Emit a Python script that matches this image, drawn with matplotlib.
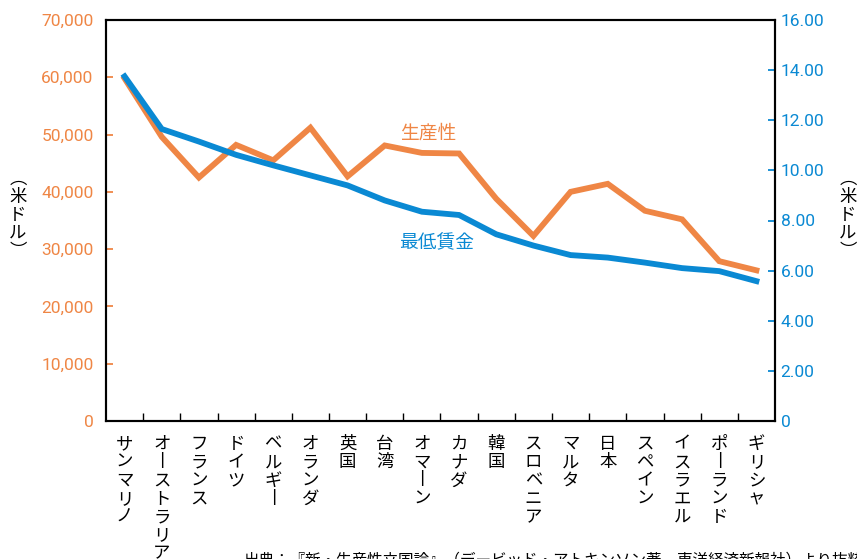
import matplotlib
matplotlib.use("Agg")
import matplotlib.pyplot as plt
import numpy as np

plt.rcParams['font.family'] = ['Noto Sans CJK JP', 'DejaVu Sans']

# 国名（縦書き用に長音は縦棒に置き換える）
countries = ['サンマリノ', 'オーストラリア', 'フランス', 'ドイツ', 'ベルギー', 'オランダ',
             '英国', '台湾', 'オマーン', 'カナダ', '韓国', 'スロベニア', 'マルタ', '日本',
             'スペイン', 'イスラエル', 'ポーランド', 'ギリシャ']

# 生産性（米ドル）
productivity = [59800, 49600, 42500, 48200, 45500, 51200, 42700, 48100, 46800,
                46700, 38800, 32300, 40000, 41400, 36700, 35200, 27900, 26300]

# 最低賃金（米ドル）
min_wage = [13.75, 11.65, 11.15, 10.62, 10.2, 9.8, 9.4, 8.8, 8.35, 8.22,
            7.45, 7.0, 6.62, 6.52, 6.32, 6.1, 5.98, 5.58]

left_ticks = [0, 10000, 20000, 30000, 40000, 50000, 60000, 70000]
right_ticks = [0, 2, 4, 6, 8, 10, 12, 14, 16]

ORANGE = '#EF8645'
BLUE = '#0A89D3'


def vertical(s):
    return '\n'.join(s.replace('ー', '丨'))


fig = plt.figure(figsize=(8.57, 5.59), dpi=100)
ax = fig.add_axes([106 / 857, 1 - 421 / 559, 669 / 857, 401 / 559])
ax2 = ax.twinx()

x = np.arange(len(countries))
ax.plot(x, productivity, color=ORANGE, lw=4.2, solid_joinstyle='miter', zorder=3)
ax2.plot(x, min_wage, color=BLUE, lw=4.2, solid_joinstyle='miter', zorder=3)

ax.set_xlim(-0.5, len(countries) - 0.5)
ax.set_ylim(0, 70000)
ax2.set_ylim(0, 16)

ax.set_yticks(left_ticks)
ax.set_yticklabels([f'{v:,}' for v in left_ticks])
ax2.set_yticks(right_ticks)
ax2.set_yticklabels(['0' if v == 0 else f'{v:.2f}' for v in right_ticks])

ax.tick_params(axis='y', direction='in', length=5, width=1.3, color=ORANGE,
               labelcolor=ORANGE, labelsize=12.5, pad=9)
ax2.tick_params(axis='y', direction='in', length=5, width=1.3, color=BLUE,
                labelcolor=BLUE, labelsize=12.5, pad=4)
for lab in ax.get_yticklabels() + ax2.get_yticklabels():
    lab.set_fontfamily(['Roboto', 'DejaVu Sans'])

# カテゴリ境界の目盛り（内向き）
ax.set_xticks(x)
ax.set_xticklabels([vertical(c) for c in countries], fontsize=12.5,
                   linespacing=1.02, va='top')
ax.set_xticks(np.arange(0.5, len(countries) - 0.5), minor=True)
ax.tick_params(axis='x', which='major', length=0, pad=10)
ax.tick_params(axis='x', which='minor', direction='in', length=6, width=1.0,
               color='black')

for a in (ax, ax2):
    for sp in a.spines.values():
        sp.set_linewidth(1.5)
        sp.set_color('black')

unit = vertical('︵米ドル︶')
fig.text(18 / 857, 1 - 215 / 559, unit, fontsize=12.5,
         ha='center', va='center', linespacing=1.0)
fig.text(848 / 857, 1 - 215 / 559, unit, fontsize=12.5,
         ha='center', va='center', linespacing=1.0)

fig.text(428 / 857, 1 - 133 / 559, '生産性', color=ORANGE, fontsize=13.5,
         ha='center', va='center')
fig.text(437 / 857, 1 - 243 / 559, '最低賃金', color=BLUE, fontsize=13.5,
         ha='center', va='center')

fig.text(243 / 857, 1 - 551 / 559,
         '出典：『新・生産性立国論』（デービッド・アトキンソン著、東洋経済新報社）より抜粋',
         fontsize=11.2, ha='left', va='top')

fig.savefig('out.png', dpi=100)
